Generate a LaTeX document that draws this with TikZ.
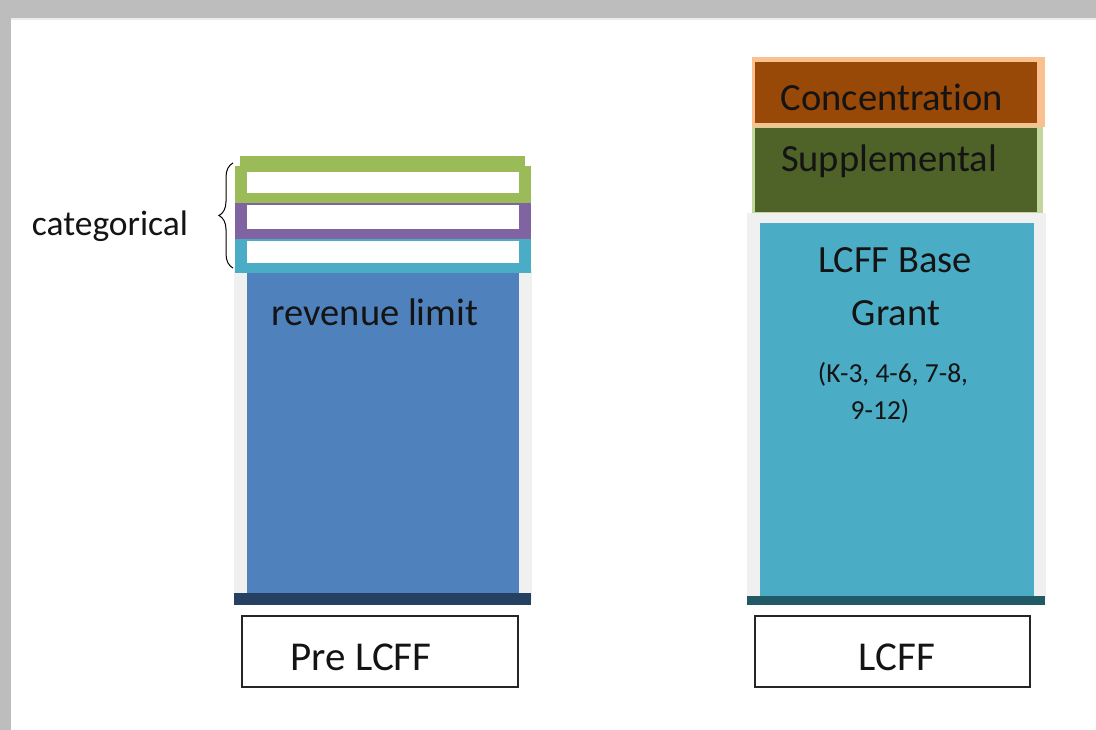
\documentclass[tikz,border=0pt]{standalone}
\usepackage{fontspec}
\setmainfont{Carlito}[Ligatures={NoCommon}]
\usetikzlibrary{decorations.pathreplacing}
\definecolor{framegray}{HTML}{BDBDBD}
\definecolor{stripgray}{HTML}{F0F0F0}
\definecolor{revblue}{HTML}{4F81BD}
\definecolor{navy}{HTML}{254061}
\definecolor{catgreen}{HTML}{9BBB59}
\definecolor{catpurple}{HTML}{8064A2}
\definecolor{catcyan}{HTML}{4BACC6}
\definecolor{concbrown}{HTML}{984807}
\definecolor{concedge}{HTML}{FAC090}
\definecolor{supgreen}{HTML}{4F6228}
\definecolor{supedge}{HTML}{C3D69B}
\definecolor{baseteal}{HTML}{4BACC6}
\definecolor{tealdark}{HTML}{215967}
\definecolor{txt}{HTML}{141414}
\tikzset{
  x=1pt, y=-1pt,
  bigtxt/.style={font=\fontsize{38.5}{44}\selectfont, text=txt, inner sep=0},
  cattxt/.style={font=\fontsize{35.5}{40}\selectfont, text=txt, inner sep=0},
  labeltxt/.style={font=\fontsize{41}{46}\selectfont, text=txt, inner sep=0},
  smalltxt/.style={font=\fontsize{27.5}{32}\selectfont, text=txt, inner sep=0},
  labelbox/.style={draw=black!85, line width=2.2pt, fill=white, inner sep=0, anchor=north west},
}
\begin{document}
\begin{tikzpicture}
\useasboundingbox (0,0) rectangle (1096,730);
\fill[white] (0,0) rectangle (1096,730);
% window frame
\fill[framegray] (0,0) rectangle (1096,18);
\fill[framegray] (0,0) rectangle (11,730);
\fill[black!8] (11,18) rectangle (1096,20);

% ---------- Pre LCFF column ----------
\fill[stripgray] (234,268) rectangle (532,600);
\fill[revblue] (247,268) rectangle (519,594);
\fill[navy] (234,593) rectangle (531,605);
% categorical boxes
\fill[catcyan] (235,239) rectangle (531,273);
\fill[white] (247,241) rectangle (519,263);
\fill[catpurple] (235,203) rectangle (531,239);
\fill[white] (247,205) rectangle (519,229);
\fill[catgreen] (240,156) rectangle (525,172);
\fill[catgreen] (235,166) rectangle (531,203);
\fill[white] (247,172) rectangle (519,193);
\node[bigtxt] (rev) at (375,312) {revenue limit};
\coordinate (bb) at (233,268);
\coordinate (bt) at (233,163);
\draw[line width=1pt, decorate, decoration={brace, amplitude=14pt}] (bb) -- (bt);
\node[cattxt] (cat) at (110,226) {categorical};

% ---------- LCFF column ----------
\fill[stripgray] (747,213) rectangle (1046,600);
\fill[baseteal] (760,223) rectangle (1034,597);
\fill[tealdark] (747,596) rectangle (1045,605);
\fill[concedge] (752,57) rectangle (1045,127);
\fill[concbrown] (755,62) rectangle (1037,123);
\fill[supedge] (752,127) rectangle (1043,213);
\fill[supgreen] (755,128) rectangle (1037,212);
\node[bigtxt] (conc) at (892,97) {Concentration};
\node[bigtxt] (supp) at (889,161) {Supplemental};
\node[bigtxt] (base1) at (895,260) {LCFF Base};
\node[bigtxt] (base2) at (896,313) {Grant};
\node[smalltxt] (grades1) at (893,374) {(K-3, 4-6, 7-8,};
\node[smalltxt] (grades2) at (880,411) {9-12)};

% ---------- labels ----------
\node[labelbox, minimum width=276pt, minimum height=71pt] (prebox) at (241,615) {};
\node[labeltxt] (pretxt) at (361,657) {Pre LCFF};
\node[labelbox, minimum width=275pt, minimum height=71pt] (lcffbox) at (754,615) {};
\node[labeltxt] (lcfftxt) at (897,657) {LCFF};
\end{tikzpicture}
\end{document}
